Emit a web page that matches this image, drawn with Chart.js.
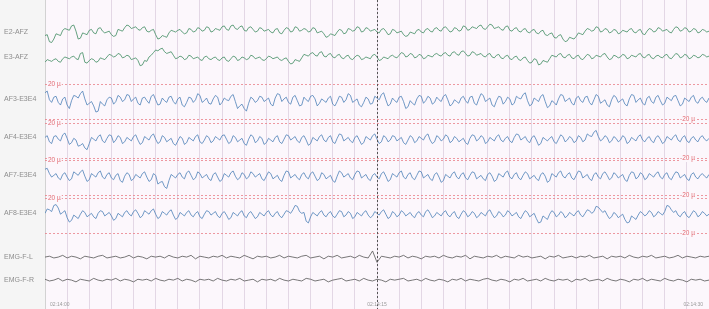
<!DOCTYPE html>
<html><head><meta charset="utf-8">
<script src="https://cdn.jsdelivr.net/npm/chart.js@4/dist/chart.umd.min.js"></script>
<style>html,body{margin:0;padding:0;background:#fff;overflow:hidden}</style>
</head><body>
<canvas id="c" width="709" height="309"></canvas>
<script>
// ---- data ----
const channelNames = ["E2-AFZ","E3-AFZ","AF3-E3E4","AF4-E3E4","AF7-E3E4","AF8-E3E4","EMG-F-L","EMG-F-R"];
const timeLabels = ["02:14:00","02:14:15","02:14:30"];
const timeLabelSeconds = [0, 15, 30];
const cursorSecond = 15;
const eegStep = 0.1; // seconds between EEG samples
const emgStep = 0.2; // seconds between EMG samples
const refLevels = [20, -20]; // µV reference lines
const refLabels = ["20 µ", "-20 µ"];

const E2_AFZ = [
 -4,-3,-11,-12,-8,-2,-3,-4,2,4,3,2,7,8,1,-8,-7,-1,-2,-3,
 2,3,-1,-2,4,5,1,-1,0,1,-3,-5,-4,3,2,1,5,8,7,4,
 5,6,3,2,5,6,1,0,2,3,-3,-8,-7,-4,-5,-6,-1,2,1,0,
 2,3,0,-2,-1,4,3,0,1,5,4,1,2,6,5,0,1,4,3,2,
 6,7,3,2,7,8,4,3,6,7,2,1,5,6,3,0,1,5,4,1,
 2,3,0,-1,3,4,-1,-2,2,5,4,0,1,6,5,1,2,4,3,0,
 1,5,4,-1,0,1,-2,-6,-5,-2,-3,-4,0,3,2,-2,-1,4,3,1,
 2,6,5,0,1,5,4,1,2,3,0,-1,3,4,1,-3,-2,3,2,-1,
 0,1,-3,-5,-4,0,-1,-2,2,3,0,-1,3,4,1,0,4,5,2,1,
 5,6,3,0,1,5,4,1,2,7,6,2,3,6,5,4,7,8,4,3,
 6,9,8,4,5,6,3,2,6,7,2,1,4,5,1,0,3,4,0,-1,
 2,3,-1,-2,1,2,-3,-4,-2,-1,-6,-7,-4,-3,-8,-11,-10,-6,-7,-8,
 -5,-1,-2,-3,1,4,3,1,2,6,5,0,1,4,3,-1,0,3,2,-2,
 -1,2,1,0,3,4,0,-1,2,3,-2,-3,1,4,3,0,1,5,4,1,
 2,3,0,-1,3,6,5,1,2,5,4,0,1,4,3,-1,0,3,2,0,1];
const E3_AFZ = [
 -6,-3,-4,-5,-3,-2,-5,-6,-2,0,-1,-2,0,1,-2,-3,4,5,-6,-7,
 -4,-2,-3,-6,-5,-1,-2,-3,0,3,2,0,1,4,3,-1,0,2,1,-3,
 -2,-1,-4,-10,-9,-4,-5,0,2,5,8,7,9,10,6,4,5,6,2,-2,
 -1,1,0,-3,-2,2,1,-2,-1,0,-3,-4,0,1,-2,-3,-1,0,-3,-4,
 -1,0,-4,-5,-2,1,0,-4,-3,0,-1,-3,-2,2,1,-2,-1,0,-3,-4,
 -2,1,0,-2,-1,0,-3,-4,-2,-1,-5,-8,-7,-3,-4,-5,-1,3,2,1,
 4,5,2,1,5,6,1,0,3,4,0,-1,2,3,-1,-2,1,2,-2,-3,
 0,2,1,-3,-2,0,-1,-2,2,3,0,-4,-3,0,-1,-2,1,2,0,-1,
 2,5,4,0,1,4,3,-1,0,3,2,-2,-1,2,1,0,3,4,2,1,
 4,5,2,1,5,6,3,2,6,7,4,1,2,6,5,2,3,4,1,0,
 3,4,0,-1,2,3,-1,-2,1,2,-2,-3,0,1,-3,-4,-1,0,-4,-7,
 -6,-2,-3,-9,-8,-4,-5,-6,-2,2,1,0,3,4,0,-1,2,3,-1,-2,
 1,2,-2,-3,0,3,2,-2,-1,2,1,0,3,4,0,-3,-2,2,1,-1,
 0,3,2,-2,-1,2,1,0,3,4,0,-1,2,3,-1,-2,1,2,0,-1,
 2,3,-1,-2,1,4,3,-1,0,3,2,-2,-1,2,1,-1,0,3,2,0,1];
const AF3_E3E4 = [
 10,12,2,-1,5,6,-1,-4,3,5,-4,-8,1,7,6,4,9,12,3,-4,
 -2,0,-5,-12,-11,0,-3,-5,2,5,4,-3,0,7,5,0,2,8,7,0,
 3,5,-2,-4,4,5,1,-2,6,8,2,-4,-3,4,1,-1,5,6,0,-3,
 3,5,-4,-6,-1,5,4,-1,2,9,7,-1,1,4,-2,-3,3,7,5,-4,
 -1,4,2,1,6,8,0,-8,-5,-3,-8,-11,-2,5,3,-1,1,6,5,0,
 2,4,-3,-5,4,9,8,0,3,5,-1,-3,5,7,1,-5,-4,5,2,0,
 6,7,3,-5,-2,3,1,-1,4,6,-3,-5,0,6,5,-1,2,9,7,-1,
 1,3,-4,-6,-1,5,3,-3,-2,6,4,2,8,10,2,-5,-3,4,1,-1,
 5,6,0,-8,-6,1,-2,-4,3,7,6,-2,1,6,4,-3,-1,5,2,0,
 6,8,2,-5,-3,2,0,-2,4,6,1,-2,5,6,-2,-4,3,9,7,0,
 2,4,-4,-6,1,6,5,-3,0,5,3,-4,-2,6,4,3,8,10,1,-5,
 -3,4,2,0,6,8,0,-7,-5,1,-1,-4,3,8,7,0,2,4,-2,-4,
 4,6,1,-1,5,6,-1,-4,2,8,6,-2,0,2,-4,-6,2,7,5,-1,
 1,3,-3,-5,3,8,7,-1,2,4,-2,-4,4,6,0,-2,5,7,1,-4,
 -2,5,3,1,6,7,1,-5,-3,4,2,0,5,7,0,-2,3,5,1,-1,4];
const AF4_E3E4 = [
 3,5,-2,-4,4,5,1,-1,6,8,2,-5,-3,2,0,-7,-6,-4,-9,-11,
 -4,3,1,-1,4,6,-1,-3,2,6,5,-3,0,5,3,-4,-2,3,1,-1,
 4,6,0,-5,-3,4,2,0,5,7,1,-4,-2,5,3,-2,0,2,-4,-6,
 -1,4,2,-5,-3,3,1,-1,4,6,-2,-4,0,5,3,-3,-1,4,2,0,
 5,6,1,-4,-2,5,3,-2,0,2,-4,-6,1,6,4,-3,-1,4,2,-5,
 -3,2,0,-2,3,5,-2,-4,1,6,5,0,2,4,-1,-3,3,5,0,-6,
 -4,3,1,-1,4,6,0,-2,3,5,-2,-4,2,7,6,-1,1,3,-1,-3,
 3,5,0,-5,-3,4,2,0,5,7,1,-4,-2,5,3,-2,0,5,4,-1,
 1,3,-3,-5,0,5,3,-3,-1,4,2,0,5,7,0,-4,-2,5,3,-1,
 1,6,4,-3,-1,4,2,-2,0,2,-3,-5,2,6,5,-1,1,5,3,-4,
 -2,3,1,-1,4,6,0,-2,2,4,-1,-3,3,7,6,0,2,4,-1,-3,
 3,5,0,-6,-4,3,1,-1,2,4,-2,-4,1,6,4,-2,0,4,2,-3,
 -1,5,3,-2,0,7,5,4,9,11,4,-1,1,5,3,-3,-1,4,2,-2,
 0,5,3,-4,-2,3,1,-1,4,6,0,-2,2,4,-1,-3,3,5,1,-4,
 -2,4,2,0,4,6,0,-2,3,5,-1,-3,2,4,0,-2,3,5,1,-1,2];
const AF7_E3E4 = [
 9,10,4,0,2,4,-1,-3,3,5,0,-4,-2,6,4,2,6,8,1,-5,
 -3,4,2,0,5,7,0,-2,3,5,-1,-3,2,4,-4,-6,1,5,3,-4,
 -2,3,1,-1,4,6,0,-5,-3,4,2,-8,-6,-5,-11,-13,-4,3,1,-1,
 3,5,0,-2,5,7,2,-3,-1,6,4,-1,1,3,-2,-4,3,5,0,-5,
 -3,4,2,0,5,7,1,-3,-1,5,3,-2,0,6,4,0,2,4,-2,-4,
 1,6,4,-2,0,2,-3,-5,2,7,6,-1,1,3,-1,-3,3,5,0,-2,
 4,6,1,-4,-2,5,3,-2,0,2,-4,-6,1,7,5,0,2,4,-1,-3,
 3,7,6,-1,1,3,-2,-4,2,4,0,-2,4,6,1,-5,-3,4,2,0,
 5,7,0,-2,3,5,-1,-3,2,7,6,-1,1,3,-2,-4,3,5,0,-6,
 -4,3,1,-1,4,6,0,-2,3,5,-1,-3,2,6,5,-2,0,2,-2,-4,
 3,5,1,-5,-3,4,2,0,5,7,0,-2,3,5,-1,-3,2,6,4,-2,
 0,2,-2,-4,3,5,1,-6,-4,4,2,0,5,7,1,-1,3,5,-1,-3,
 2,7,6,-1,1,3,-2,-4,3,5,0,-2,4,6,2,-3,-1,5,3,-1,
 1,3,-3,-5,2,6,5,-2,0,5,3,-3,-1,4,2,0,4,6,0,-2,
 3,5,-1,-3,2,6,5,-1,1,3,-2,-4,3,5,0,-2,2,4,1,-1,3];
const AF8_E3E4 = [
 2,7,6,4,11,12,8,1,3,5,-3,-8,-6,0,-2,-4,1,5,3,-2,
 0,2,-2,-4,2,5,4,-1,1,3,-1,-6,-4,2,0,-2,3,5,1,-1,
 4,6,2,-3,-1,5,3,1,5,7,1,-4,-2,4,2,0,4,6,0,-5,
 -3,3,1,-1,3,5,0,-2,2,4,-2,-4,1,5,4,0,2,4,-1,-3,
 2,4,0,-5,-3,3,1,-1,3,5,-1,-3,2,4,0,-4,-2,3,1,-1,
 3,5,0,-2,2,4,-1,-3,1,5,4,2,6,11,10,4,2,3,-7,-9,
 -2,3,1,-1,3,5,0,-2,2,4,-1,-3,1,5,4,-2,0,4,2,-4,
 -2,3,1,-1,3,5,0,-3,-1,4,2,0,4,6,1,-4,-2,4,2,-2,
 0,5,3,-1,1,3,-1,-3,2,4,0,-2,4,6,2,-3,-1,3,1,-1,
 3,5,0,-2,2,4,-2,-4,1,5,3,-2,0,4,2,-3,-1,3,1,-1,
 4,6,1,-3,-1,4,2,-2,0,5,3,-1,1,3,-2,-4,1,5,3,-2,
 0,2,-4,-9,-8,-1,-3,-5,1,5,3,-2,0,4,2,-3,-1,3,1,-1,
 3,5,0,-2,2,6,5,2,4,10,9,6,3,5,0,-4,-2,3,1,-3,
 -1,1,-5,-9,-8,-1,-3,-5,0,4,2,-1,1,5,3,-2,0,4,2,0,
 4,11,10,6,3,5,0,-2,2,4,-1,-3,1,5,3,-2,0,4,2,-1,1];
const EMG_F_L = [
 0,1,-1,0,2,-1,1,0,-2,1,
 0,-1,1,2,-1,0,1,-1,0,2,
 -1,1,0,-2,1,0,1,-1,2,0,
 -1,1,0,2,-2,1,0,-1,1,0,
 2,-1,1,0,-1,2,0,-2,1,0,
 1,-1,0,2,-1,1,0,-1,1,2,
 -1,0,1,-2,1,0,2,-1,0,1,
 -1,2,0,-1,7,-6,1,0,-1,1,
 0,2,-1,1,0,-2,1,0,1,-1,
 2,0,-1,1,0,2,-2,1,0,-1,
 1,0,2,-1,1,0,-1,2,0,1,
 -1,0,1,-2,1,0,2,-1,0,1,
 -1,1,0,2,-1,0,1,-2,1,0,
 1,-1,2,0,-1,1,0,2,-1,0,
 1,-1,0,2,-1,1,0,-1,1,0,1];
const EMG_F_R = [
 1,-1,0,2,-1,1,0,-2,1,0,
 -1,2,0,-1,1,0,2,-1,1,0,
 -2,1,0,1,-1,2,0,-1,1,0,
 2,-1,1,0,-2,1,0,1,-1,2,
 0,-1,1,0,2,-1,0,1,-2,1,
 0,1,-1,2,0,-1,1,0,-1,2,
 1,-1,0,1,-2,0,1,2,-1,0,
 1,-1,2,0,-1,1,0,-2,1,0,
 1,2,-1,0,1,-1,2,0,-1,1,
 0,-2,1,0,2,-1,1,0,-1,1,
 2,0,-1,1,0,-2,1,0,2,-1,
 0,1,-1,2,0,-1,1,0,1,-2,
 1,0,2,-1,0,1,-1,2,0,-1,
 1,0,-2,1,0,2,-1,1,0,-1,
 2,0,-1,1,0,-2,1,0,1,-1,0];

const seriesList = [E2_AFZ, E3_AFZ, AF3_E3E4, AF4_E3E4, AF7_E3E4, AF8_E3E4, EMG_F_L, EMG_F_R];
const seriesStep = [eegStep, eegStep, eegStep, eegStep, eegStep, eegStep, emgStep, emgStep];

// ---- layout / style (not data) ----
const yMax = 353;                         // display units, 1 unit = 1 µV
const baselines = [36.6, 65.1, 116, 160, 202.3, 245.7, 293.7, 320]; // channel rows
const labelAt = [36.6, 65.1, 113.5, 157, 200, 243.5, 293.7, 320];
const colors = ["#3f8c61","#3f8c61","#4c80b7","#4c80b7","#4c80b7","#4c80b7","#555555","#555555"];
const refChannels = [2,3,4,5];
const plotBg = "#fcf7fc";
const panelBg = "#f5f5f5";

const datasets = seriesList.map((s, ci) => ({
  label: channelNames[ci],
  data: s.map((v, i) => ({x: i * seriesStep[ci], y: baselines[ci] - v})),
  borderColor: colors[ci],
  borderWidth: ci >= 6 ? 0.8 : 0.8,
  pointRadius: 0,
  fill: false,
  tension: 0
}));

const bgPlugin = {
  id: 'bg',
  beforeDraw(chart) {
    const {ctx, chartArea: a} = chart;
    ctx.save();
    ctx.fillStyle = panelBg;
    ctx.fillRect(0, 0, chart.width, chart.height);
    ctx.fillStyle = plotBg;
    ctx.fillRect(a.left, a.top, a.right - a.left, a.bottom - a.top);
    ctx.restore();
  },
  beforeDatasetsDraw(chart) {
    const {ctx, chartArea: a, scales: {y}} = chart;
    ctx.save();
    ctx.strokeStyle = "rgba(232,120,130,0.75)";
    ctx.lineWidth = 1;
    ctx.setLineDash([2, 2]);
    refChannels.forEach(ci => {
      refLevels.forEach(lv => {
        const py = Math.round(y.getPixelForValue(baselines[ci] - lv)) + 0.5;
        ctx.beginPath(); ctx.moveTo(a.left, py); ctx.lineTo(a.right, py); ctx.stroke();
      });
    });
    ctx.setLineDash([]);
    ctx.font = "6.5px 'Liberation Sans', Arial, sans-serif";
    ctx.textBaseline = "middle";
    refChannels.forEach(ci => {
      refLevels.forEach((lv, k) => {
        const py = Math.round(y.getPixelForValue(baselines[ci] - lv)) + 0.5;
        const txt = refLabels[k];
        const w = ctx.measureText(txt).width;
        const x0 = k === 0 ? a.left + 3 : a.right - 29;
        ctx.fillStyle = plotBg;
        ctx.fillRect(x0 - 1, py - 3.5, w + 2, 7);
        ctx.fillStyle = "#e26a72";
        ctx.textAlign = "left";
        ctx.fillText(txt, x0, py);
      });
    });
    ctx.restore();
  },
  afterDatasetsDraw(chart) {
    const {ctx, chartArea: a, scales: {x}} = chart;
    ctx.save();
    const px = Math.round(x.getPixelForValue(cursorSecond)) + 0.5;
    ctx.strokeStyle = "#555";
    ctx.lineWidth = 1;
    ctx.setLineDash([2, 2]);
    ctx.beginPath(); ctx.moveTo(px, a.top); ctx.lineTo(px, a.bottom); ctx.stroke();
    ctx.setLineDash([]);
    ctx.fillStyle = "#9a9a9a";
    ctx.font = "5px 'Liberation Sans', Arial, sans-serif";
    ctx.textBaseline = "middle";
    timeLabels.forEach((t, k) => {
      const s = timeLabelSeconds[k];
      let tx = x.getPixelForValue(s);
      if (k === 0) { ctx.textAlign = "left"; tx += 5; }
      else if (k === timeLabels.length - 1) { ctx.textAlign = "right"; tx -= 6; }
      else { ctx.textAlign = "center"; }
      ctx.fillText(t, tx, a.bottom - 4);
    });
    ctx.restore();
  }
};

new Chart(document.getElementById('c'), {
  type: 'line',
  data: { datasets },
  options: {
    responsive: false,
    animation: false,
    parsing: false,
    normalized: true,
    layout: { padding: { left: 4, right: 0, top: 0, bottom: 0 } },
    plugins: { legend: { display: false }, tooltip: { enabled: false } },
    scales: {
      x: {
        type: 'linear', min: 0, max: 30,
        afterFit(s) { s.height = 0; s.paddingLeft = 0; s.paddingRight = 0; },
        ticks: { display: false, stepSize: 1 },
        grid: { color: "rgba(205,190,210,0.55)", lineWidth: 1, drawTicks: false },
        border: { display: false }
      },
      y: {
        type: 'linear', min: 0, max: yMax, reverse: true,
        afterFit(s) { s.width = 41; s.paddingTop = 0; s.paddingBottom = 0; },
        afterBuildTicks(s) { s.ticks = labelAt.map(v => ({ value: v })); },
        ticks: {
          autoSkip: false,
          callback: (v, i) => channelNames[i],
          color: "#8e8e8e",
          font: { size: 7, family: "'Liberation Sans', Arial, sans-serif" },
          crossAlign: 'far',
          padding: 0
        },
        grid: { display: false, drawTicks: false },
        border: { display: true, color: "#d2d2d2" }
      }
    }
  },
  plugins: [bgPlugin]
});
</script>
</body></html>
